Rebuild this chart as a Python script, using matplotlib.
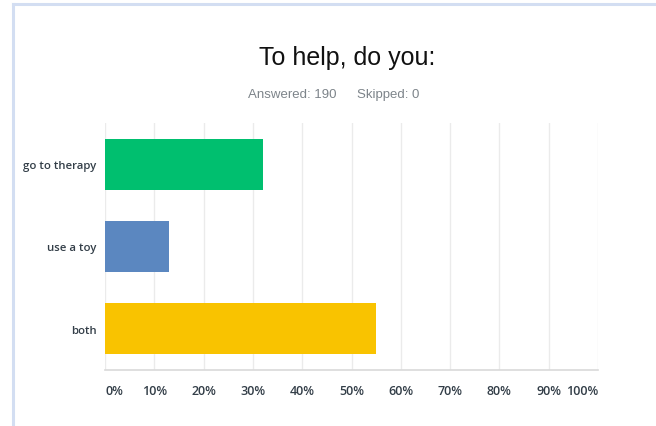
import matplotlib
matplotlib.use("Agg")
import matplotlib.pyplot as plt
from matplotlib.lines import Line2D

# survey answers (percent of respondents)
CATEGORIES = ["go to therapy", "use a toy", "both"]
PERCENTS = [32, 13, 55]
BAR_COLORS = ["#00BF6F", "#5B87C0", "#F9C300"]
TICKS = [0, 10, 20, 30, 40, 50, 60, 70, 80, 90, 100]
TICK_LABELS = [f"{t}%" for t in TICKS]

TITLE = "To help, do you:"
ANSWERED = "Answered: 190"
SKIPPED = "Skipped: 0"

TEXT_DARK = "#333E48"
GRID = "#EBEBEB"
FRAME = "#D3DEF2"

fig = plt.figure(figsize=(6.56, 4.27), dpi=100)
fig.patch.set_facecolor("white")

# panel border: top and left edges
fig.add_artist(Line2D([13 / 656, 13 / 656], [0, 1 - 5 / 427], transform=fig.transFigure,
                      color=FRAME, linewidth=2.2))
fig.add_artist(Line2D([13 / 656, 1], [1 - 5 / 427, 1 - 5 / 427], transform=fig.transFigure,
                      color=FRAME, linewidth=2.2))

ax = fig.add_axes([105 / 656, 1 - 371 / 427, 493 / 656, 247 / 427])

ypos = list(range(len(CATEGORIES)))
ax.barh(ypos, PERCENTS, height=0.62, color=BAR_COLORS, zorder=3)

ax.set_xlim(0, 100)
ax.set_ylim(2.5, -0.5)
ax.set_xticks(TICKS)
ax.set_xticklabels(TICK_LABELS)
ax.set_yticks(ypos)
ax.set_yticklabels(CATEGORIES)

for t in TICKS:
    ax.axvline(t, color=GRID, linewidth=1.0, zorder=1)

for s in ("top", "right", "left"):
    ax.spines[s].set_visible(False)
ax.spines["bottom"].set_color("#D9D9D9")
ax.spines["bottom"].set_linewidth(1.2)

ax.tick_params(axis="both", length=0, colors=TEXT_DARK)
ax.tick_params(axis="x", pad=10)
ax.tick_params(axis="y", pad=6)
for lab in ax.get_xticklabels():
    lab.set_fontfamily("Open Sans")
    lab.set_fontweight("semibold")
    lab.set_fontsize(9)
    lab.set_color(TEXT_DARK)
for lab in ax.get_yticklabels():
    lab.set_fontfamily("Open Sans")
    lab.set_fontweight("semibold")
    lab.set_fontsize(8.2)
    lab.set_color(TEXT_DARK)

# keep the end labels inside the plot width
xlabels = ax.get_xticklabels()
xlabels[0].set_horizontalalignment("left")
xlabels[-1].set_horizontalalignment("right")

fig.text(347 / 656, 1 - 58 / 427, TITLE, ha="center", va="center",
         fontsize=18, family="Liberation Sans", color="#111111")
fig.text(337 / 656, 1 - 95 / 427, ANSWERED, ha="right", va="center",
         fontsize=9.5, family="Liberation Sans", color="#7D848A")
fig.text(357 / 656, 1 - 95 / 427, SKIPPED, ha="left", va="center",
         fontsize=9.5, family="Liberation Sans", color="#7D848A")

fig.savefig("out.png", dpi=100, facecolor="white")
